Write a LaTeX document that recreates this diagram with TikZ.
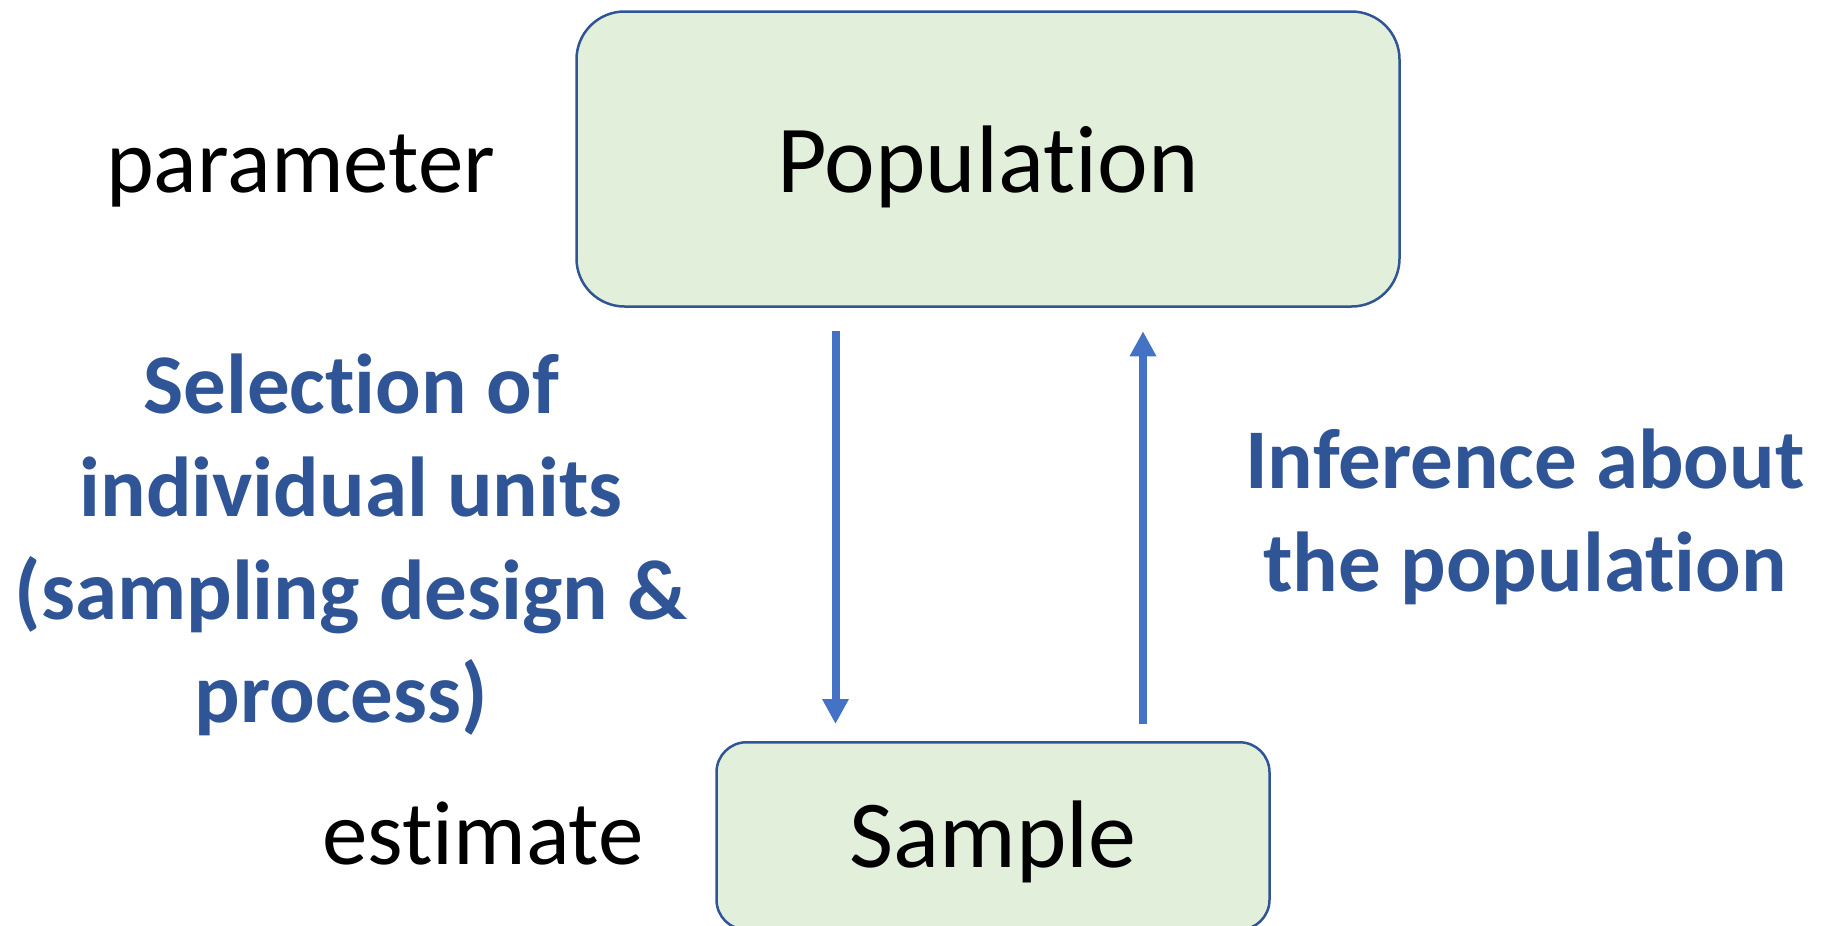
\documentclass[tikz,border=0pt]{standalone}
\usepackage{fontspec}
\setmainfont{Carlito}[Ligatures={NoCommon}]
\usetikzlibrary{arrows.meta}
\definecolor{boxfill}{HTML}{E2EFDA}
\definecolor{boxline}{HTML}{2F5597}
\definecolor{arrowblue}{HTML}{4472C4}
\definecolor{textblue}{HTML}{2F5597}
\begin{document}
\begin{tikzpicture}[x=1pt,y=-1pt,
  box/.style={draw=boxline, line width=2.5pt, fill=boxfill, inner sep=0pt, text depth=0pt,
    font=\fontsize{96}{110}\selectfont},
  side/.style={inner sep=0pt, font=\fontsize{91}{108}\selectfont},
  note/.style={inner sep=0pt, align=center, text=textblue, font=\bfseries\fontsize{85}{103}\selectfont},
  arr/.style={draw=arrowblue, line width=8pt, -{Triangle[width=25pt,length=25pt]}}]
\useasboundingbox (0,0) rectangle (1826,926);
\node[box, rounded corners=48pt, minimum width=823pt, minimum height=295pt, text height=66pt] (pop) at (988,159) {Population};
\node[box, rounded corners=30pt, minimum width=553pt, minimum height=187.5pt, text height=62pt] (samp) at (993,836) {Sample};
\node[side, anchor=base west] (param) at (106,192) {parameter};
\node[side, anchor=base west] (est) at (322,864) {estimate};
\node[note] (sel) at (351,545) {Selection of\\individual units\\(sampling design \&\\process)\kern0.226em};
\node[note] (inf) at (1525,517) {Inference about\\the population};
\draw[arr] ([shift={(-152.5,23.5)}]pop.south) -- ([shift={(-157.5,-17)}]samp.north);
\draw[arr] ([shift={(150,-17)}]samp.north) -- ([shift={(155,23.5)}]pop.south);
\end{tikzpicture}
\end{document}
